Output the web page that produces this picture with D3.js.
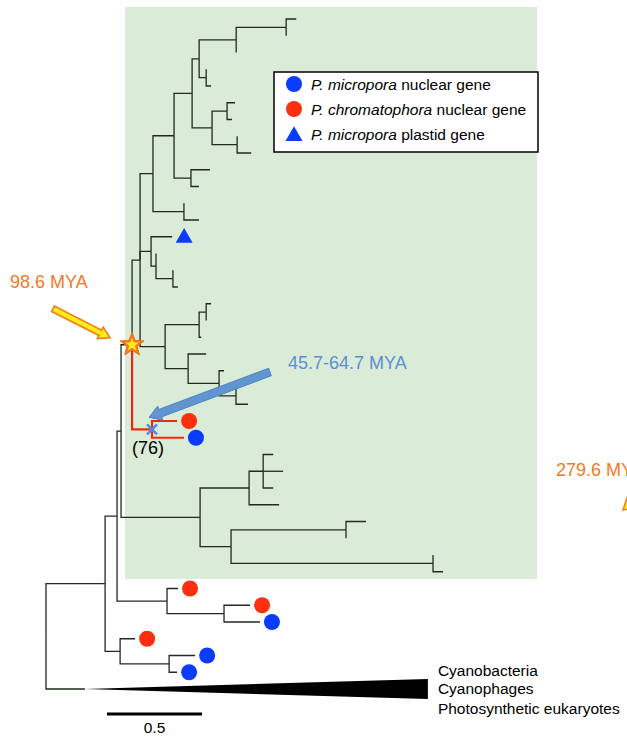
<!DOCTYPE html>
<html>
<head>
<meta charset="utf-8">
<script src="https://cdn.jsdelivr.net/npm/d3@7"></script>
<style>
	body { margin: 0; background: #fff; }
	svg { display: block; font-family: 'Liberation Sans', Arial, sans-serif; }
	.branch { fill: none; stroke: #1f2b1f; stroke-width: 1.3; }
	.branch.red { stroke: #ee2a0c; stroke-width: 2.2; }
</style>
</head>
<body>
<script>
const width = 627, height = 737;

// [node, parent, branch length]
const branches = [
	['root', null, 0],
	['W', 'root', 0.311], ['wedge', 'root', 0.205],
	['V', 'W', 0.063], ['Z', 'W', 0.079],
	['T', 'V', 0.021], ['X', 'V', 0.263],
	['R', 'T', 0.058], ['U', 'T', 0.416],
	['P', 'R', 0.042], ['S', 'R', 0.105],
	['K', 'P', 0.068], ['M', 'P', 0.058], ['Q', 'P', 0.132],
	['I', 'K', 0.111], ['L', 'K', 0.163],
	['A', 'I', 0.095], ['J', 'I', 0.089],
	['B', 'A', 0.037], ['C', 'A', 0.105],
	['D', 'B', 0.195], ['E', 'B', 0.037],
	['F', 'D', 0.263], ['d2', 'D', 0],
	['f1', 'F', 0.053], ['f2', 'F', 0],
	['e1', 'E', 0], ['e2', 'E', 0.026],
	['G', 'C', 0.079], ['H', 'C', 0.132],
	['g1', 'G', 0.042], ['g2', 'G', 0.026],
	['h1', 'H', 0], ['h2', 'H', 0.074],
	['j1', 'J', 0.1], ['j2', 'J', 0.042],
	['l1', 'L', 0], ['l2', 'L', 0.079],
	['m1', 'M', 0.111], ['N', 'M', 0.026],
	['n1', 'N', 0], ['O', 'N', 0.089],
	['o1', 'O', 0], ['o2', 'O', 0.026],
	['AG', 'Q', 0.179], ['AH', 'Q', 0.121],
	['AI', 'AG', 0.037], ['ag2', 'AG', 0.011],
	['ai1', 'AI', 0.026], ['ai2', 'AI', 0],
	['ah1', 'AH', 0.095], ['AJ', 'AH', 0.163],
	['aj1', 'AJ', 0.026], ['AK', 'AJ', 0.089],
	['ak1', 'AK', 0], ['ak2', 'AK', 0.063],
	['s1', 'S', 0.132], ['s2', 'S', 0.168],
	['AB', 'U', 0.258], ['AC', 'U', 0.163],
	['AD', 'AB', 0.074], ['ab2', 'AB', 0.158],
	['ad1', 'AD', 0.053], ['ad2', 'AD', 0.105], ['ad3', 'AD', 0.053],
	['AE', 'AC', 0.605], ['AF', 'AC', 1.063],
	['ae1', 'AE', 0.105], ['ae2', 'AE', 0],
	['af1', 'AF', 0], ['af2', 'AF', 0.053],
	['x1', 'X', 0.058], ['Y', 'X', 0.3],
	['y1', 'Y', 0.137], ['y2', 'Y', 0.189],
	['z1', 'Z', 0.079], ['AA', 'Z', 0.258],
	['aa1', 'AA', 0.137], ['aa2', 'AA', 0.042]
];

const highlightClade = 'S';
const collapsedLeaf = 'wedge';
const collapsedDepth = 1.805;
const collapsedSpread = 0.6;

const markerLeaves = ['m1', 's1', 's2', 'x1', 'y1', 'y2', 'z1', 'aa1', 'aa2'];
const markerTypes = ['plastid', 'chrom', 'micro', 'chrom', 'chrom', 'micro', 'chrom', 'micro', 'micro'];

const legendTypes = ['micro', 'chrom', 'plastid'];
const legendSpecies = ['P. micropora', 'P. chromatophora', 'P. micropora'];
const legendSuffix = [' nuclear gene', ' nuclear gene', ' plastid gene'];

const cladeLabels = ['Cyanobacteria', 'Cyanophages', 'Photosynthetic eukaryotes'];
const dateLabels = ['98.6 MYA', '45.7-64.7 MYA', '279.6 MYA'];
const bootstrapLabel = '(76)';
const scaleBarLength = 0.5;

const blue = '#0a3cff', red = '#ff2e0e', orange = '#f47a26', yellow = '#ffee10';

const svg = d3.select('body').append('svg')
	.attr('width', width)
	.attr('height', height)

// tree layout from branch lengths
const root = d3.stratify().id(d => d[0]).parentId(d => d[1])(branches);
root.eachBefore(n => n.len = n.parent ? n.parent.len + n.data[2] : 0);
const leaves = root.leaves();
leaves.forEach((n, i) => n.idx = i);
root.eachAfter(n => {
	if (n.children) n.idx = (n.children[0].idx + n.children[n.children.length - 1].idx) / 2;
})
root.each(n => n.red = n.ancestors().some(a => a.id == highlightClade));

const x = d3.scaleLinear().domain([0, 1]).range([46, 236]);
const y = d3.scaleLinear().domain([0, leaves.length - 1]).range([19, 689]);
const nodeById = id => root.find(n => n.id == id);

// highlighted region
svg.append('rect')
	.attr('x', 125).attr('y', 7)
	.attr('width', 412).attr('height', 572)
	.style('fill', '#daecd8')

// branches
svg.append('g')
	.selectAll('path')
	.data(root.descendants().slice(1))
	.enter()
	.append('path')
	.attr('class', d => d.red ? 'branch red' : 'branch')
	.attr('d', d => `M${x(d.parent.len)},${y(d.parent.idx)}V${y(d.idx)}H${x(d.len)}`)

// collapsed outgroup wedge
let wedge = nodeById(collapsedLeaf);
svg.append('path')
	.attr('d', d3.line()([
		[x(wedge.len), y(wedge.idx)],
		[x(wedge.len + collapsedDepth), y(wedge.idx - collapsedSpread)],
		[x(wedge.len + collapsedDepth), y(wedge.idx + collapsedSpread)]
	]) + 'Z')
	.style('fill', '#000')

svg.append('g')
	.selectAll('text')
	.data(cladeLabels)
	.enter()
	.append('text')
	.attr('x', x(wedge.len + collapsedDepth) + 10)
	.attr('y', (d, i) => y(wedge.idx) + [-13, 5, 25][i])
	.style('font-size', '15.5px')
	.text(d => d)

// gene markers
const symbolFor = t => t == 'plastid'
	? d3.symbol(d3.symbolTriangle, 125)()
	: d3.symbol(d3.symbolCircle, Math.PI * 64)();
const colorFor = t => t == 'chrom' ? red : blue;

svg.append('g')
	.selectAll('path')
	.data(markerLeaves)
	.enter()
	.append('path')
	.attr('transform', (d, i) => {
		let n = nodeById(d);
		return `translate(${x(n.len) + 12},${y(n.idx) + (markerTypes[i] == 'plastid' ? 1 : 0)})`;
	})
	.attr('d', (d, i) => symbolFor(markerTypes[i]))
	.style('fill', (d, i) => colorFor(markerTypes[i]))

// arrows
function arrowPoints(x1, y1, x2, y2, shaft, head, headLen) {
	let dx = x2 - x1, dy = y2 - y1, l = Math.hypot(dx, dy);
	let ux = dx / l, uy = dy / l, nx = -uy, ny = ux;
	let bx = x2 - ux * headLen, by = y2 - uy * headLen;
	let p = (px, py, s) => [px + nx * s, py + ny * s];
	return [p(x1, y1, shaft / 2), p(bx, by, shaft / 2), p(bx, by, head / 2), [x2, y2],
		p(bx, by, -head / 2), p(bx, by, -shaft / 2), p(x1, y1, -shaft / 2)];
}

let nodeR = nodeById('R'), nodeS = nodeById('S');
let rx = x(nodeR.len), ry = y(nodeR.idx), sx = x(nodeS.len), sy = y(nodeS.idx);

svg.append('polygon')
	.attr('points', arrowPoints(rx - 79, ry - 36, rx - 22, ry - 7, 6, 13, 11).join(' '))
	.style('fill', yellow).style('stroke', orange).style('stroke-width', 1.6)

svg.append('polygon')
	.attr('points', arrowPoints(660, 478, 623, 510, 6, 13, 11).join(' '))
	.style('fill', yellow).style('stroke', orange).style('stroke-width', 1.6)

svg.append('polygon')
	.attr('points', arrowPoints(270, 372, sx - 3, sy - 12, 8, 15, 12).join(' '))
	.style('fill', '#6195d0').style('stroke', '#4f84c4').style('stroke-width', 1)

// dated node star
let starPts = d3.range(10).map(i => {
	let a = -Math.PI / 2 + i * Math.PI / 5, r = i % 2 ? 0.42 : 1;
	return [Math.cos(a) * r, Math.sin(a) * r];
})
let star = s => starPts.map(p => [rx + p[0] * s, ry + p[1] * s].join(',')).join(' ');
svg.append('polygon').attr('points', star(12.5)).style('fill', orange).style('stroke', '#f26a10').style('stroke-width', 1)
svg.append('polygon').attr('points', star(7)).style('fill', yellow)

// dated node cross
svg.append('path')
	.attr('d', `M${sx - 5},${sy - 5}L${sx + 5},${sy + 5}M${sx - 5},${sy + 5}L${sx + 5},${sy - 5}`)
	.style('stroke', '#4a8ee8').style('stroke-width', 2.6)

svg.append('text')
	.attr('x', sx - 20).attr('y', sy + 25)
	.style('font-size', '18px')
	.text(bootstrapLabel)

// date labels
svg.append('g')
	.selectAll('text')
	.data(dateLabels)
	.enter()
	.append('text')
	.attr('x', (d, i) => [10, 288, 556][i])
	.attr('y', (d, i) => [288, 369, 476][i])
	.style('fill', (d, i) => i == 1 ? '#5b8fd4' : orange)
	.style('font-size', '18px')
	.text(d => d)

// legend
let legend = svg.append('g').attr('transform', 'translate(274,72)');
legend.append('rect')
	.attr('width', 264).attr('height', 80)
	.style('fill', '#fff').style('stroke', '#000').style('stroke-width', 1.5)

let rows = legend.selectAll('g')
	.data(legendTypes)
	.enter()
	.append('g')
	.attr('transform', (d, i) => `translate(0,${[12, 37, 62][i]})`)

rows.append('path')
	.attr('transform', d => `translate(20,${d == 'plastid' ? 2 : 0})`)
	.attr('d', d => symbolFor(d))
	.style('fill', d => colorFor(d))

let labels = rows.append('text')
	.attr('x', 37).attr('y', 5.5)
	.style('font-size', '15.5px')
labels.append('tspan').style('font-style', 'italic').text((d, i) => legendSpecies[i])
labels.append('tspan').text((d, i) => legendSuffix[i])

// scale bar
svg.append('line')
	.attr('x1', 107).attr('x2', 107 + x(scaleBarLength) - x(0))
	.attr('y1', 714).attr('y2', 714)
	.style('stroke', '#000').style('stroke-width', 3)

svg.append('text')
	.attr('x', 107 + (x(scaleBarLength) - x(0)) / 2).attr('y', 733)
	.attr('text-anchor', 'middle')
	.style('font-size', '15.5px')
	.text(scaleBarLength)
</script>
</body>
</html>
